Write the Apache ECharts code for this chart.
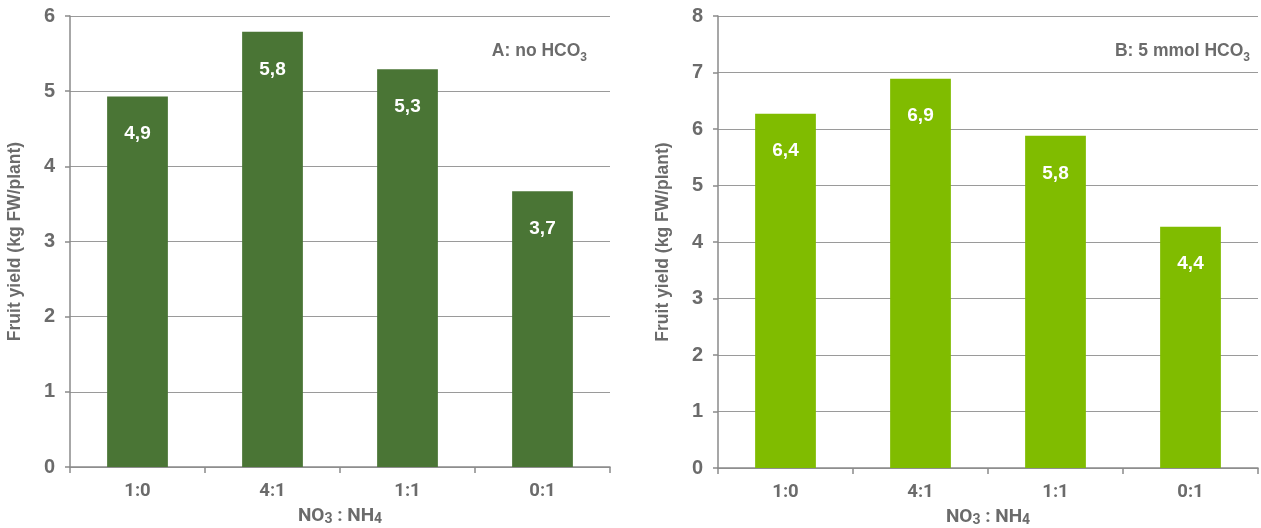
<!DOCTYPE html>
<html><head><meta charset="utf-8">
<script src="https://cdn.jsdelivr.net/npm/echarts@6/dist/echarts.min.js"></script>
<style>html,body{margin:0;padding:0;background:#fff}#c{width:1261px;height:528px}</style>
</head><body><div id="c"></div>
<script>
const categories = ['1:0', '4:1', '1:1', '0:1'];
const valuesA = [4.93, 5.79, 5.29, 3.67];
const labelsA = ['4,9', '5,8', '5,3', '3,7'];
const valuesB = [6.27, 6.89, 5.88, 4.27];
const labelsB = ['6,4', '6,9', '5,8', '4,4'];
const yTicksA = { min: 0, max: 6, interval: 1 };
const yTicksB = { min: 0, max: 8, interval: 1 };
const yName = 'Fruit yield (kg FW/plant)';
const xName = '{m|NO}{s|3}{m| : NH}{s|4}';

const gray = '#6b6b6b';
const lineGray = '#8a8a8a';
const FONT = '"Liberation Sans", Arial, sans-serif';
const chart = echarts.init(document.getElementById('c'));

function xAxis(i){
  return {
    type: 'category', gridIndex: i, data: categories,
    name: xName, nameLocation: 'middle', nameGap: 38,
    nameTextStyle: { rich: {
      m: { color: gray, fontSize: 19, fontWeight: 'bold', fontFamily: 'Roboto', lineHeight: 22 },
      s: { color: gray, fontSize: 14, fontWeight: 'bold', fontFamily: 'Roboto', lineHeight: 22, padding: [6, 0, 0, 0] }
    } },
    axisLine: { lineStyle: { color: lineGray, width: 1.5 } },
    axisTick: { show: true, length: 6, lineStyle: { color: lineGray, width: 1.5 } },
    axisLabel: { color: gray, fontSize: 18.5, fontWeight: 'bold', fontFamily: 'Roboto', margin: 15 }
  };
}
function yAxis(i, t){
  return {
    type: 'value', gridIndex: i, min: t.min, max: t.max, interval: t.interval,
    name: yName, nameLocation: 'middle', nameGap: 46, nameRotate: 90,
    nameTextStyle: { color: gray, fontSize: 17.5, fontWeight: 'bold', fontFamily: FONT },
    axisLine: { show: true, lineStyle: { color: lineGray, width: 1.5 } },
    axisTick: { show: true, length: 5, lineStyle: { color: lineGray, width: 1.5 } },
    splitLine: { show: true, lineStyle: { color: '#9a9a9a', width: 1.2 } },
    axisLabel: { color: gray, fontSize: 20, fontWeight: 'bold', fontFamily: FONT, margin: 15 }
  };
}
function bars(i, vals, labs, color){
  return {
    type: 'bar', xAxisIndex: i, yAxisIndex: i, data: vals, barWidth: '45%',
    itemStyle: { color: color },
    label: { show: true, position: 'insideTop', distance: 28, color: '#fff', fontSize: 19, fontWeight: 'bold', fontFamily: FONT,
      formatter: p => labs[p.dataIndex] }
  };
}
const titleRich = {
  a: { color: gray, fontSize: 17.5, fontWeight: 'bold', fontFamily: FONT, lineHeight: 22 },
  s: { color: gray, fontSize: 12, fontWeight: 'bold', fontFamily: FONT, lineHeight: 22, padding: [13, 0, 0, 0] }
};
chart.setOption({
  animation: false,
  title: [
    { text: '{a|A: no HCO}{s|3}', right: 1261 - 592, top: 35, textStyle: { rich: titleRich } },
    { text: '{a|B: 5 mmol HCO}{s|3}', right: 6, top: 35, textStyle: { rich: titleRich } }
  ],
  grid: [
    { left: 70, top: 16, width: 540, height: 451, containLabel: false, outerBoundsMode: 'none' },
    { left: 718, top: 16, width: 540, height: 452, containLabel: false, outerBoundsMode: 'none' }
  ],
  xAxis: [xAxis(0), xAxis(1)],
  yAxis: [yAxis(0, yTicksA), yAxis(1, yTicksB)],
  series: [bars(0, valuesA, labelsA, '#4a7535'), bars(1, valuesB, labelsB, '#80bc00')]
});
</script></body></html>
